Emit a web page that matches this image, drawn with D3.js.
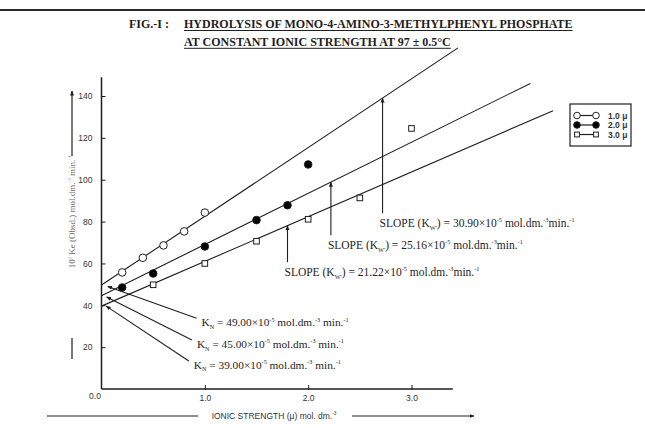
<!DOCTYPE html>
<html>
<head>
<meta charset="utf-8">
<script src="https://cdn.jsdelivr.net/npm/d3@7"></script>
<style>
  html, body { margin: 0; padding: 0; background: #fff; }
  svg { display: block; }
</style>
</head>
<body>
<div id="chart"></div>
<script>
// ionic strength (mu) / 10^5 Ke (Obsd.) readings, one pair of arrays per series
const mu10X = [0.2, 0.4, 0.6, 0.8, 1.0]
const mu10Y = [55.7, 62.7, 68.6, 75.3, 84.3]
const mu20X = [0.2, 0.5, 1.0, 1.5, 1.8, 2.0]
const mu20Y = [48.5, 55.2, 68.1, 80.7, 87.8, 107.3]
const mu30X = [0.5, 1.0, 1.5, 2.0, 2.5, 3.0]
const mu30Y = [49.8, 60.0, 70.6, 81.1, 91.3, 124.5]

const seriesLabels = ["1.0 \u03bc", "2.0 \u03bc", "3.0 \u03bc"]
const seriesMarkers = ["open", "filled", "square"]

// straight-line fits: start on the y axis, end at the far right
const fitStartY = [49.7, 44.6, 39.6]
const fitEndX = [3.45, 4.15, 4.37]
const fitEndY = [163, 146, 133]

// slope call-outs: x where the arrow meets the fit, y where the arrow starts
const slopeArrowX = [2.72, 2.22, 1.80]
const slopeArrowY0 = [84, 73.5, 60.6]
const slopeValues = ["30.90", "25.16", "21.22"]

// intercept call-outs
const knValues = ["49.00", "45.00", "39.00"]
const knTipX = [0.06, 0.05, 0.045]
const knTipY = [49, 44, 39.6]
const knTailX = [0.92, 0.875, 0.845]
const knTailY = [33.8, 23.4, 13.4]

const xTicks = [0, 1, 2, 3]
const xTickLabels = ["0.0", "1.0", "2.0", "3.0"]
const yTicks = [20, 40, 60, 80, 100, 120, 140]

const W = 645, H = 428
const serif = "'Liberation Serif', 'Times New Roman', serif"
const sans = "'Liberation Sans', Arial, sans-serif"
const ink = "#1e1e1e"

const x = d3.scaleLinear().domain([0, 3]).range([101.5, 411.5])
const y = d3.scaleLinear().domain([0, 140]).range([389, 96])

const svg = d3.select("#chart").append("svg")
  .attr("width", W).attr("height", H)
  .attr("viewBox", `0 0 ${W} ${H}`)

svg.append("rect").attr("width", W).attr("height", H).attr("fill", "#fff")

const defs = svg.append("defs")
defs.append("marker")
  .attr("id", "arr")
  .attr("viewBox", "0 -5 10 10")
  .attr("refX", 9).attr("refY", 0)
  .attr("markerWidth", 5).attr("markerHeight", 5)
  .attr("markerUnits", "userSpaceOnUse")
  .attr("orient", "auto")
  .append("path").attr("d", "M0,-4L10,0L0,4Z").attr("fill", ink)

// text with sub/superscripts: parts = [[text, "" | "sup" | "sub"], ...]
function rich(g, px, py, parts, size, opts = {}) {
  const t = g.append("text")
    .attr("x", px).attr("y", py)
    .attr("font-family", opts.family || serif)
    .attr("font-size", size)
    .attr("fill", opts.fill || ink)
    .attr("text-anchor", opts.anchor || "start")
  let shift = 0
  parts.forEach(([s, kind]) => {
    const target = kind === "sup" ? -size * 0.42 : kind === "sub" ? size * 0.22 : 0
    t.append("tspan")
      .attr("dy", target - shift)
      .attr("font-size", kind ? size * 0.55 : size)
      .text(s)
    shift = target
  })
  return t
}

// ---- title ----
svg.append("line").attr("x1", 0).attr("x2", W).attr("y1", 10).attr("y2", 10)
  .attr("stroke", "#2a2a2a").attr("stroke-width", 2)
const title = svg.append("g").attr("font-family", serif).attr("font-weight", "bold")
  .attr("font-size", 12).attr("fill", ink)
title.append("text").attr("x", 129).attr("y", 28).text("FIG.-I :")
const t1 = title.append("text").attr("x", 184).attr("y", 28)
  .text("HYDROLYSIS OF MONO-4-AMINO-3-METHYLPHENYL PHOSPHATE")
const t2 = title.append("text").attr("x", 184).attr("y", 46)
  .text("AT CONSTANT IONIC STRENGTH AT 97 \u00b1 0.5\u00b0C")
;[[t1, 30.5], [t2, 48.3]].forEach(([t, uy]) => {
  const len = t.node().getComputedTextLength()
  title.append("line").attr("x1", 184).attr("x2", 184 + len)
    .attr("y1", uy).attr("y2", uy).attr("stroke", ink).attr("stroke-width", 1)
})

// ---- axes ----
const axes = svg.append("g").attr("stroke", ink).attr("stroke-width", 1.5)
axes.append("line").attr("x1", x(0)).attr("x2", x(0)).attr("y1", y(0)).attr("y2", y(149))
axes.append("line").attr("x1", x(0)).attr("x2", x(3.4)).attr("y1", y(0)).attr("y2", y(0))

const yAxis = svg.append("g")
  .attr("transform", `translate(${x(0)},0)`)
  .call(d3.axisLeft(y).tickValues(yTicks).tickSize(5).tickPadding(4).tickFormat(d3.format("d")))
yAxis.select(".domain").remove()
yAxis.selectAll(".tick line").attr("x2", 4).attr("stroke", ink)
yAxis.selectAll(".tick text").attr("font-family", sans).attr("font-size", 8.5).attr("fill", "#333")

const xAxis = svg.append("g")
  .attr("transform", `translate(0,${y(0)})`)
  .call(d3.axisBottom(x).tickValues(xTicks).tickSize(0).tickPadding(6)
    .tickFormat((d, i) => xTickLabels[i]))
xAxis.select(".domain").remove()
xAxis.selectAll(".tick text").attr("font-family", sans).attr("font-size", 8.5).attr("fill", "#333")
  .attr("dx", (d) => d === 0 ? -7 : 0).attr("dy", (d) => d === 0 ? "0.45em" : "0.75em")
xAxis.selectAll(".tick").filter((d) => d > 0).append("line")
  .attr("y1", -4).attr("y2", 1).attr("stroke", ink)

// axis titles
const yl = svg.append("g").attr("transform", "translate(72,212) rotate(-90)")
rich(yl, 0, 3, [["10", ""], ["5", "sup"], [" Ke (Obsd.) mol.dm.", ""], ["-3", "sup"],
  [" min.", ""], ["-1", "sup"]], 9, { anchor: "middle", fill: "#6a6a6a" })
svg.append("line").attr("x1", 72).attr("x2", 72).attr("y1", 156).attr("y2", 91)
  .attr("stroke", ink).attr("stroke-width", 1.2).attr("marker-end", "url(#arr)")
svg.append("line").attr("x1", 72).attr("x2", 72).attr("y1", 338).attr("y2", 359)
  .attr("stroke", ink).attr("stroke-width", 1.2)

rich(svg, 274, 419, [["IONIC STRENGTH (\u03bc) mol. dm.", ""], ["-3", "sup"]], 8.5,
  { anchor: "middle", family: sans, fill: "#333" })
svg.append("line").attr("x1", 47).attr("x2", 198).attr("y1", 416).attr("y2", 416)
  .attr("stroke", ink).attr("stroke-width", 1.2)
svg.append("line").attr("x1", 352).attr("x2", 474).attr("y1", 416).attr("y2", 416)
  .attr("stroke", ink).attr("stroke-width", 1.2).attr("marker-end", "url(#arr)")

// ---- fit lines ----
svg.append("g").selectAll("line").data(fitStartY).join("line")
  .attr("x1", x(0)).attr("y1", (d) => y(d))
  .attr("x2", (d, i) => x(fitEndX[i])).attr("y2", (d, i) => y(fitEndY[i]))
  .attr("stroke", ink).attr("stroke-width", 1.1)

function fitAt(i, xv) {
  return fitStartY[i] + (fitEndY[i] - fitStartY[i]) * xv / fitEndX[i]
}

// ---- slope call-outs ----
const sl = svg.append("g")
slopeArrowX.forEach((xv, i) => {
  sl.append("line").attr("x1", x(xv)).attr("x2", x(xv))
    .attr("y1", y(slopeArrowY0[i])).attr("y2", y(fitAt(i, xv)))
    .attr("stroke", ink).attr("stroke-width", 1.1).attr("marker-end", "url(#arr)")
  rich(sl, x(xv) - 3, y(slopeArrowY0[i]) + 14,
    [["SLOPE (K", ""], ["W'", "sub"], [") = " + slopeValues[i] + "\u00d710", ""], ["-5", "sup"],
     [" mol.dm.", ""], ["-3", "sup"], ["min.", ""], ["-1", "sup"]], 11.5)
})

// ---- intercept call-outs ----
const kn = svg.append("g")
knValues.forEach((v, i) => {
  kn.append("line").attr("x1", x(knTailX[i])).attr("y1", y(knTailY[i]))
    .attr("x2", x(knTipX[i])).attr("y2", y(knTipY[i]))
    .attr("stroke", ink).attr("stroke-width", 1.1).attr("marker-end", "url(#arr)")
  rich(kn, x(knTailX[i]) + 5, y(knTailY[i]) + 8,
    [["K", ""], ["N", "sub"], [" = " + v + "\u00d710", ""], ["-5", "sup"],
     [" mol.dm.", ""], ["-3", "sup"], [" min.", ""], ["-1", "sup"]], 11.3)
})

// ---- markers ----
function drawMarker(g, kind, cx, cy, r) {
  if (kind === "square") {
    g.append("rect").attr("x", cx - r).attr("y", cy - r).attr("width", 2 * r).attr("height", 2 * r)
      .attr("fill", "#fff").attr("stroke", ink).attr("stroke-width", 1)
  } else {
    g.append("circle").attr("cx", cx).attr("cy", cy).attr("r", r)
      .attr("fill", kind === "filled" ? "#000" : "#fff").attr("stroke", ink).attr("stroke-width", 1)
  }
}

const allX = [mu10X, mu20X, mu30X]
const allY = [mu10Y, mu20Y, mu30Y]
const pts = svg.append("g")
allX.forEach((xs, s) => {
  xs.forEach((xv, j) => {
    const r = seriesMarkers[s] === "square" ? 2.8 : 3.8
    drawMarker(pts, seriesMarkers[s], x(xv), y(allY[s][j]), r)
  })
})

// ---- legend ----
const lg = svg.append("g").attr("transform", "translate(570,104)")
lg.append("rect").attr("width", 61).attr("height", 42)
  .attr("fill", "#fff").attr("stroke", ink).attr("stroke-width", 1.2)
seriesLabels.forEach((lab, i) => {
  const ry = 11.5 + i * 9.5
  lg.append("line").attr("x1", 7).attr("x2", 26).attr("y1", ry).attr("y2", ry)
    .attr("stroke", ink).attr("stroke-width", 1.2)
  const r = seriesMarkers[i] === "square" ? 2.4 : 3.3
  drawMarker(lg, seriesMarkers[i], 7, ry, r)
  drawMarker(lg, seriesMarkers[i], 26, ry, r)
  lg.append("text").attr("x", 38).attr("y", ry + 3)
    .attr("font-family", sans).attr("font-weight", "bold").attr("font-size", 8.5)
    .attr("fill", "#333").text(lab)
})
</script>
</body>
</html>
